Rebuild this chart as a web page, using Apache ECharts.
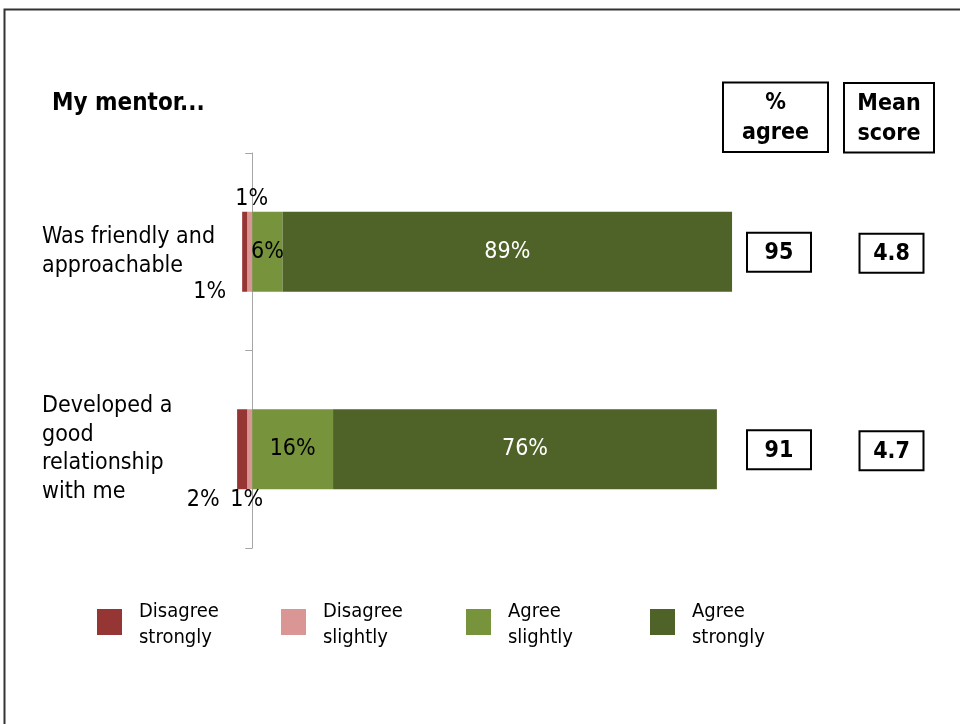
<!DOCTYPE html>
<html>
<head>
<meta charset="utf-8">
<script src="https://cdn.jsdelivr.net/npm/echarts@6/dist/echarts.min.js"></script>
<style>html,body{margin:0;padding:0;background:#fff;}#c{width:960px;height:724px;}</style>
</head>
<body>
<div id="c"></div>
<script>
var categories = ['Was friendly and\napproachable', 'Developed a\ngood\nrelationship\nwith me'];
var disagreeStrongly = [1, 2];
var disagreeSlightly = [1, 1];
var agreeSlightly = [6, 16];
var agreeStrongly = [89, 76];
var pctAgree = ['95', '91'];
var meanScore = ['4.8', '4.7'];
var seriesNames = ['Disagree strongly', 'Disagree slightly', 'Agree slightly', 'Agree strongly'];
var legendLabels = ['Disagree\nstrongly', 'Disagree\nslightly', 'Agree\nslightly', 'Agree\nstrongly'];
var headerLabel = 'My mentor...';
var colHeaders = ['%\nagree', 'Mean\nscore'];

var F = "'DejaVu Sans Condensed', 'DejaVu Sans', sans-serif";
var colors = {
  'Disagree strongly': '#963634',
  'Disagree slightly': '#DA9694',
  'Agree slightly': '#77933C',
  'Agree strongly': '#4F6228'
};

var chart = echarts.init(document.getElementById('c'), null, {renderer: 'canvas'});

function pctFmt(p) { return Math.abs(p.value) + '%'; }

var baseLabel = {show: true, fontFamily: F, fontSize: 23, color: '#000', formatter: pctFmt};

// per-category label placement for the small disagree segments
var dsLabelPlace = [
  {position: 'bottom', distance: 0, offset: [-35, -11]},
  {position: 'bottom', distance: 0, offset: [-39, -1]}
];
var dslLabelPlace = [
  {position: 'top', distance: 1, offset: [2, 0]},
  {position: 'bottom', distance: 0, offset: [-3, -1]}
];

function items(vals, sign, places) {
  return vals.map(function (v, i) {
    var it = {value: sign * v};
    if (places) it.label = places[i];
    return it;
  });
}

var series = [
  {name: 'Disagree slightly', type: 'bar', stack: 'a', barWidth: 80,
   itemStyle: {color: colors['Disagree slightly']},
   label: baseLabel, data: items(disagreeSlightly, -1, dslLabelPlace)},
  {name: 'Disagree strongly', type: 'bar', stack: 'a', barWidth: 80,
   itemStyle: {color: colors['Disagree strongly']},
   label: baseLabel, data: items(disagreeStrongly, -1, dsLabelPlace)},
  {name: 'Agree slightly', type: 'bar', stack: 'a', barWidth: 80,
   itemStyle: {color: colors['Agree slightly']},
   label: Object.assign({}, baseLabel, {position: 'inside'}), data: items(agreeSlightly, 1)},
  {name: 'Agree strongly', type: 'bar', stack: 'a', barWidth: 80,
   itemStyle: {color: colors['Agree strongly']},
   label: Object.assign({}, baseLabel, {position: 'inside', color: '#fff'}), data: items(agreeStrongly, 1)}
];

// square icon sitting in the upper part of a taller box so the text sits a bit lower
var legendIcon = 'path://M0,0L25,0L25,26L0,26Z M0,32L0.01,32L0.01,32.01Z';
var legendX = [97, 281, 466, 650];
var legends = seriesNames.map(function (n, i) {
  return {
    data: [n], left: legendX[i], top: 599, padding: 0, orient: 'horizontal',
    itemWidth: 25, itemHeight: 32, icon: legendIcon, selectedMode: false,
    itemStyle: {borderWidth: 0},
    formatter: function () { return legendLabels[i]; },
    textStyle: {fontFamily: F, fontSize: 20, lineHeight: 26, color: '#000', padding: [0, 0, 0, 12]}
  };
});

chart.setOption({
  animation: false,
  backgroundColor: '#fff',
  grid: {left: 227, right: 202.7, top: 153, bottom: 176, containLabel: false},
  xAxis: {type: 'value', min: -5, max: 100, show: false},
  yAxis: {
    type: 'category', data: categories, inverse: true,
    axisLine: {show: true, lineStyle: {color: '#A6A6A6', width: 1}},
    axisTick: {show: true, length: 7, lineStyle: {color: '#A6A6A6'}},
    axisLabel: {align: 'left', margin: 185, fontFamily: F, fontSize: 23, lineHeight: 28.5, color: '#000'}
  },
  legend: legends,
  series: series
});

function box(x, y, w, h, text, fs, lh) {
  return {
    type: 'group', children: [
      {type: 'rect', shape: {x: x, y: y, width: w, height: h},
       style: {fill: '#fff', stroke: '#000', lineWidth: 2}, z: 10},
      {type: 'text', x: x + w / 2, y: y + h / 2 + 1, z: 11,
       style: {text: text, fill: '#000', font: 'bold ' + fs + 'px ' + F,
               align: 'center', verticalAlign: 'middle', lineHeight: lh}}
    ]
  };
}

var graphics = [
  {type: 'rect', shape: {x: 4.5, y: 9.5, width: 1000, height: 800},
   style: {fill: 'none', stroke: '#333', lineWidth: 2}, z: 0, silent: true},
  {type: 'text', x: 52, y: 104, style: {text: headerLabel, fill: '#000', font: 'bold 24px ' + F, verticalAlign: 'middle'}},
  box(723, 82.5, 105, 69.5, colHeaders[0], 23, 30),
  box(844, 83, 90, 69.5, colHeaders[1], 23, 30)
];
categories.forEach(function (c, i) {
  var yc = chart.convertToPixel({yAxisIndex: 0}, i);
  graphics.push(box(747, yc - 19, 64, 39, pctAgree[i], 23, 26));
  graphics.push(box(859.5, yc - 18, 64, 39, meanScore[i], 23, 26));
});
chart.setOption({graphic: graphics});
</script>
</body>
</html>
